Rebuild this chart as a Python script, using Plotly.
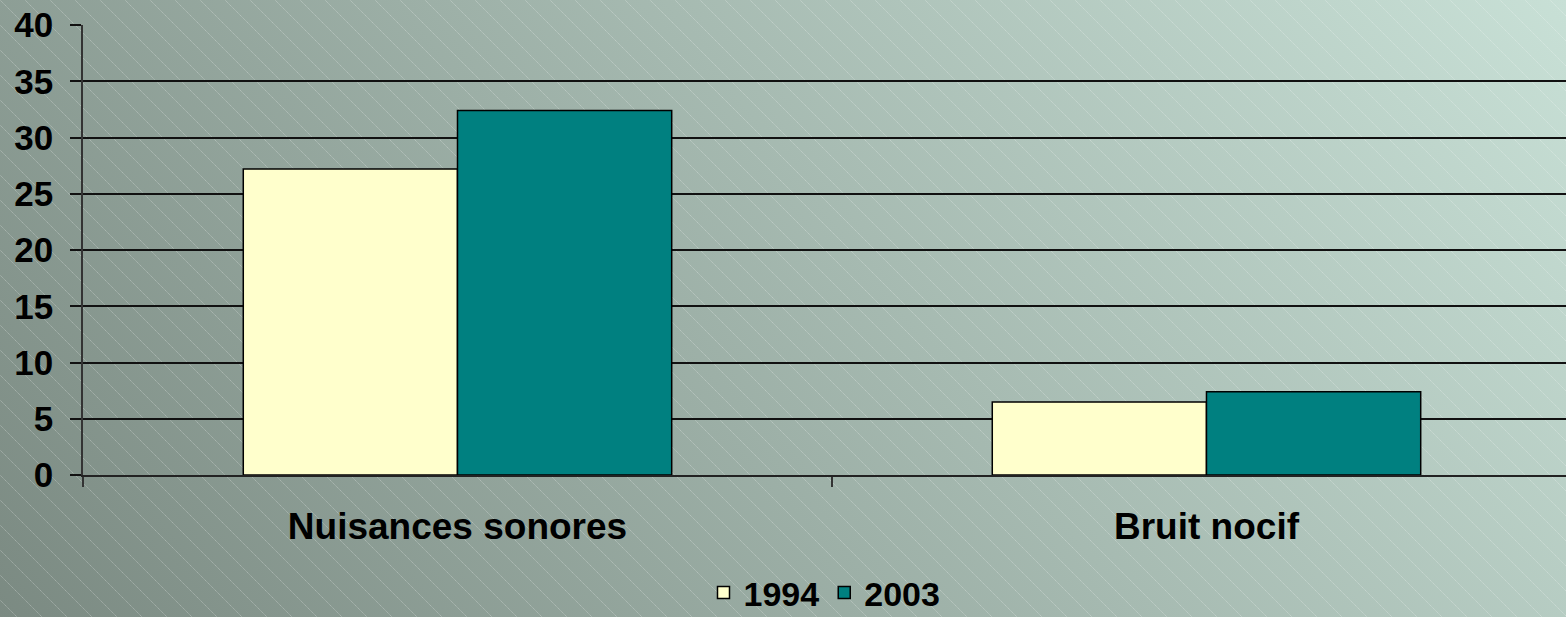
import base64
import plotly.graph_objects as go

categories = ["Nuisances sonores", "Bruit nocif"]
series_names = ["1994", "2003"]
values_1994 = [27.2, 6.5]
values_2003 = [32.4, 7.4]
y_ticks = [0, 5, 10, 15, 20, 25, 30, 35, 40]

W, H = 1566, 617
ML, MR, MT, MB = 83, 0, 25, 142
PW, PH = W - ML - MR, H - MT - MB

svg = f'''<svg xmlns="http://www.w3.org/2000/svg" width="{W}" height="{H}" viewBox="0 0 {W} {H}" preserveAspectRatio="none">
<defs>
<linearGradient id="g" gradientUnits="userSpaceOnUse" x1="0" y1="{H}" x2="1285" y2="-366">
<stop offset="0" stop-color="#7b8a82"/>
<stop offset="1" stop-color="#c8e0d6"/>
</linearGradient>
<pattern id="p" patternUnits="userSpaceOnUse" width="25" height="25">
<path d="M-2,-2 L27,27" stroke="#ffffff" stroke-opacity="0.28" stroke-width="1" stroke-dasharray="1.4,0.6"/>
</pattern>
</defs>
<rect x="0" y="0" width="{W}" height="{H}" fill="url(#g)"/>
<rect x="0" y="0" width="{W}" height="{H}" fill="url(#p)"/>
</svg>'''
src = "data:image/svg+xml;base64," + base64.b64encode(svg.encode()).decode()

font_fam = "Arial, Liberation Sans, sans-serif"

fig = go.Figure()
fig.add_trace(go.Bar(name=series_names[0], x=categories, y=values_1994,
                     marker=dict(color="#FFFFCC", line=dict(color="#000000", width=1.5))))
fig.add_trace(go.Bar(name=series_names[1], x=categories, y=values_2003,
                     marker=dict(color="#008080", line=dict(color="#000000", width=1.5))))

fig.update_layout(
    width=W, height=H,
    margin=dict(l=ML, r=MR, t=MT, b=MB, pad=0, autoexpand=False),
    barmode="group", bargap=0.428, bargroupgap=0,
    paper_bgcolor="#a0b4aa", plot_bgcolor="rgba(0,0,0,0)",
    font=dict(family=font_fam, color="#000000", weight="bold"),
    images=[dict(source=src, xref="paper", yref="paper",
                 x=-ML / PW, y=1 + MT / PH, sizex=W / PW, sizey=H / PH,
                 xanchor="left", yanchor="top", sizing="stretch", layer="below")],
    showlegend=True,
    legend=dict(orientation="h", x=0.5, xanchor="center", y=-0.262, yanchor="middle",
                font=dict(size=34, family=font_fam, weight="bold"),
                bgcolor="rgba(0,0,0,0)", traceorder="normal"),
    xaxis=dict(type="category", range=[-0.5, 1.48], tickson="boundaries",
               ticks="outside", ticklen=10, tickcolor="#333333", tickwidth=1.5,
               showline=True, linecolor="#222222", linewidth=1.5,
               showgrid=False, ticklabelstandoff=18, automargin=False,
               tickfont=dict(size=37, family=font_fam, weight="bold")),
    yaxis=dict(range=[0, 40], tickvals=y_ticks, ticks="outside", ticklen=11,
               tickcolor="#111111", tickwidth=1.5,
               showline=True, linecolor="#333333", linewidth=1.5,
               showgrid=True, gridcolor="#111111", gridwidth=1.5, zeroline=False,
               ticklabelstandoff=10, automargin=False,
               tickfont=dict(size=35, family=font_fam, weight="bold")),
)

fig.write_html("out.html", config={"displayModeBar": False},
               post_script="document.body.style.margin='0';document.body.style.overflow='hidden';")
